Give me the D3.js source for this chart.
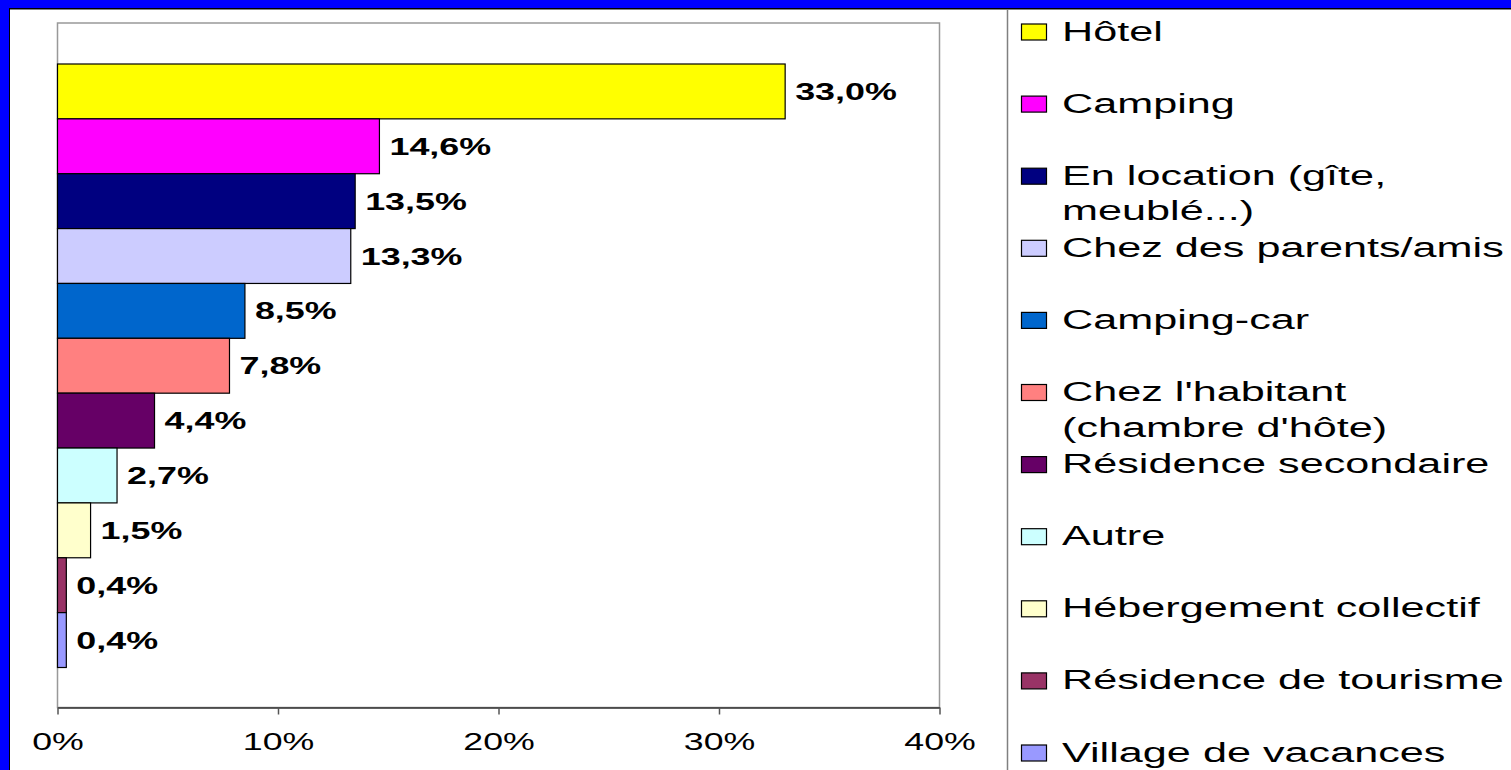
<!DOCTYPE html>
<html>
<head>
<meta charset="utf-8">
<script src="https://cdn.jsdelivr.net/npm/d3@7"></script>
<style>
  html, body { margin: 0; padding: 0; background: #0000FF; overflow: hidden; }
  svg { display: block; }
</style>
</head>
<body>
<svg id="chart" width="1511" height="770"></svg>
<script>
const categories = ["Hôtel", "Camping", "En location (gîte, meublé...)", "Chez des parents/amis", "Camping-car",
  "Chez l'habitant (chambre d'hôte)", "Résidence secondaire", "Autre", "Hébergement collectif",
  "Résidence de tourisme", "Village de vacances"];
const values = [33.0, 14.6, 13.5, 13.3, 8.5, 7.8, 4.4, 2.7, 1.5, 0.4, 0.4];
const valueLabels = ["33,0%", "14,6%", "13,5%", "13,3%", "8,5%", "7,8%", "4,4%", "2,7%", "1,5%", "0,4%", "0,4%"];
const legendLines = [["Hôtel"], ["Camping"], ["En location (gîte,", "meublé...)"], ["Chez des parents/amis"],
  ["Camping-car"], ["Chez l'habitant", "(chambre d'hôte)"], ["Résidence secondaire"], ["Autre"],
  ["Hébergement collectif"], ["Résidence de tourisme"], ["Village de vacances"]];
const colors = ["#FFFF00", "#FF00FF", "#000080", "#CCCCFF", "#0066CC", "#FF8080", "#660066", "#CCFFFF",
  "#FFFFCC", "#993366", "#9999FF"];
const ticks = [0, 10, 20, 30, 40];

const FONT = "'Liberation Sans', Arial, sans-serif";
const svg = d3.select("#chart");

// chart background
svg.append("rect").attr("x", 9.5).attr("y", 8.5).attr("width", 1520).attr("height", 780)
  .attr("fill", "#fff").attr("stroke", "#000").attr("stroke-width", 1);
svg.append("line").attr("x1", 10).attr("x2", 1511).attr("y1", 9.5).attr("y2", 9.5)
  .attr("stroke", "#808080").attr("stroke-width", 1);

const plot = { left: 57.5, right: 939.5, top: 23, bottom: 707.5 };
const x = d3.scaleLinear().domain([0, 40]).range([plot.left, plot.right]);
const y = d3.scaleBand().domain(categories).range([64, 667.5]).paddingInner(0).paddingOuter(0);

// plot border (gray)
svg.append("rect").attr("x", plot.left).attr("y", plot.top)
  .attr("width", plot.right - plot.left).attr("height", plot.bottom - plot.top)
  .attr("fill", "none").attr("stroke", "#999").attr("stroke-width", 1.5);

// bars
svg.append("g").selectAll("rect").data(categories).join("rect")
  .attr("x", x(0))
  .attr("y", d => y(d))
  .attr("width", (d, i) => x(values[i]) - x(0))
  .attr("height", y.bandwidth())
  .attr("fill", (d, i) => colors[i])
  .attr("stroke", "#000").attr("stroke-width", 1.2);

// value labels
svg.append("g").selectAll("text").data(categories).join("text")
  .attr("transform", (d, i) => `translate(${x(values[i]) + 10},${y(d) + y.bandwidth() / 2 + 8.5}) scale(1.56,1)`)
  .attr("font-family", FONT).attr("font-weight", "bold").attr("font-size", 23)
  .attr("fill", "#000")
  .text((d, i) => valueLabels[i]);

// x axis
const axis = d3.axisBottom(x).tickValues(ticks).tickSize(7).tickSizeOuter(0).tickFormat(d => d + "%");
const ag = svg.append("g").attr("transform", `translate(0,${plot.bottom})`).call(axis);
ag.select(".domain").attr("stroke", "#333").attr("stroke-width", 1.5);
ag.selectAll(".tick line").attr("stroke", "#555").attr("stroke-width", 1.5);
ag.selectAll(".tick text")
  .attr("y", 42.5).attr("dy", 0)
  .attr("transform", "scale(1.52,1)")
  .attr("font-family", FONT).attr("font-size", 23.5).attr("fill", "#000");

// legend
svg.append("line").attr("x1", 1007.5).attr("x2", 1007.5).attr("y1", 9).attr("y2", 770)
  .attr("stroke", "#808080").attr("stroke-width", 1.5);
const lg = svg.append("g").selectAll("g").data(categories).join("g")
  .attr("transform", (d, i) => `translate(1021,${31.5 + i * 72.1})`);
lg.append("rect").attr("x", 0.5).attr("y", -7.5).attr("width", 25).attr("height", 16)
  .attr("fill", (d, i) => colors[i]).attr("stroke", "#000").attr("stroke-width", 1.2);
lg.each(function(d, i) {
  const g = d3.select(this);
  legendLines[i].forEach((line, j) => {
    g.append("text")
      .attr("transform", `translate(41,${9 + j * 35.5}) scale(1.6,1)`)
      .attr("font-family", FONT).attr("font-size", 27).attr("fill", "#000")
      .text(line);
  });
});
</script>
</body>
</html>
